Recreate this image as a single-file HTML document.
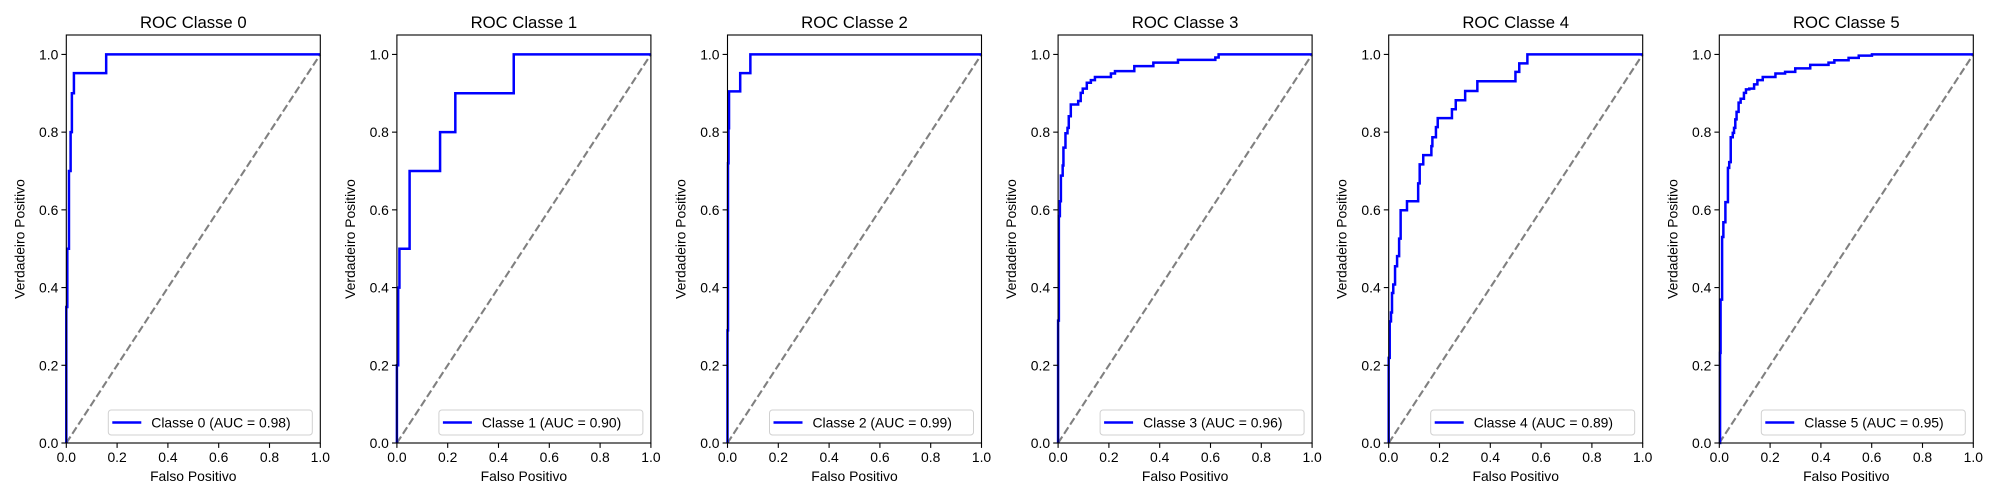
<!DOCTYPE html>
<html><head><meta charset="utf-8">
<style>
html,body{margin:0;padding:0;background:#fff;}
svg{display:block;font-family:"Liberation Sans","DejaVu Sans",sans-serif;}
</style></head>
<body>
<svg id="chart" width="2000" height="500" viewBox="0 0 2000 500" xmlns="http://www.w3.org/2000/svg"></svg>
<script>
const classNames = ["Classe 0","Classe 1","Classe 2","Classe 3","Classe 4","Classe 5"];
const aucValues = ["0.98","0.90","0.99","0.96","0.89","0.95"];
const tickLabels = ["0.0","0.2","0.4","0.6","0.8","1.0"];
const tickValues = [0,0.2,0.4,0.6,0.8,1.0];
const fpr0 = [0,0.004,0.0105,0.017,0.022,0.03,0.157];
const tpr0 = [0.35,0.5,0.7,0.8,0.9,0.952,1.0];
const fpr1 = [0,0.005,0.01,0.05,0.17,0.23,0.46];
const tpr1 = [0.2,0.4,0.5,0.7,0.8,0.9,1.0];
const fpr2 = [0,0.002,0.004,0.006,0.05,0.09];
const tpr2 = [0.29,0.72,0.81,0.905,0.952,1.0];
const fpr3 = [0,0.003,0.007,0.011,0.018,0.021,0.029,0.037,0.042,0.05,0.079,0.089,0.097,0.113,0.129,0.145,0.208,0.224,0.3,0.375,0.472,0.619,0.632];
const tpr3 = [0.315,0.584,0.622,0.688,0.714,0.76,0.797,0.811,0.841,0.871,0.88,0.901,0.912,0.927,0.934,0.942,0.951,0.957,0.97,0.979,0.986,0.992,1.0];
const fpr4 = [0,0.004,0.009,0.013,0.018,0.025,0.033,0.041,0.047,0.072,0.116,0.122,0.136,0.168,0.172,0.186,0.193,0.249,0.264,0.301,0.349,0.499,0.514,0.546];
const tpr4 = [0.219,0.313,0.336,0.386,0.408,0.455,0.481,0.526,0.599,0.622,0.668,0.717,0.741,0.764,0.787,0.813,0.836,0.859,0.882,0.906,0.931,0.955,0.977,1.0];
const fpr5 = [0.003,0.005,0.011,0.016,0.024,0.034,0.039,0.045,0.053,0.058,0.063,0.068,0.076,0.084,0.097,0.105,0.118,0.137,0.15,0.171,0.221,0.259,0.299,0.358,0.43,0.453,0.509,0.549,0.601];
const tpr5 = [0.232,0.369,0.53,0.568,0.62,0.708,0.723,0.787,0.798,0.811,0.833,0.852,0.876,0.886,0.901,0.91,0.912,0.923,0.934,0.942,0.951,0.955,0.964,0.973,0.979,0.985,0.991,0.997,1.0];
const allFpr = [fpr0,fpr1,fpr2,fpr3,fpr4,fpr5];
const allTpr = [tpr0,tpr1,tpr2,tpr3,tpr4,tpr5];

const NS = "http://www.w3.org/2000/svg";
const svg = document.getElementById("chart");
function mk(tag, attrs, parent){
  const e = document.createElementNS(NS, tag);
  for (const k in attrs) e.setAttribute(k, attrs[k]);
  (parent||svg).appendChild(e);
  return e;
}
const W = 254, TOP = 35, BOT = 443, YMAX = 1.05;
for (let p = 0; p < 6; p++) {
  const L = 66.3 + p * 330.6;
  const sx = v => L + v * W;
  const sy = v => BOT - v / YMAX * (BOT - TOP);
  const g = mk("g", {});
  
  
  const diag = mk("line", {x1:sx(0), y1:sy(0), x2:sx(1), y2:sy(1), stroke:"#808080", "stroke-width":2.1, "stroke-dasharray":"7.7 3.3"}, g);
  
  
  const fx = allFpr[p], ty = allTpr[p];
  let d = "M" + sx(0) + "," + sy(0);
  let prev = 0;
  for (let i = 0; i < fx.length; i++) {
    d += " L" + sx(fx[i]) + "," + sy(prev) + " L" + sx(fx[i]) + "," + sy(ty[i]);
    prev = ty[i];
  }
  d += " L" + sx(1) + "," + sy(prev);
  const curve = mk("path", {d:d, fill:"none", stroke:"#0000ff", "stroke-width":2.5, "stroke-linejoin":"miter"}, g);
  
  
  const frame = mk("rect", {x:L, y:TOP, width:W, height:BOT-TOP, fill:"none", stroke:"#000", "stroke-width":1.1}, g);
  
  
  for (let t = 0; t < tickValues.length; t++) {
    const xv = sx(tickValues[t]);
    mk("line", {x1:xv, y1:BOT, x2:xv, y2:BOT+4.9, stroke:"#000", "stroke-width":1.1}, g);
    const xt = mk("text", {x:xv, y:BOT+19, "font-size":13.9, "text-anchor":"middle", fill:"#000"}, g);
    xt.textContent = tickLabels[t];
    
    
    const yv = sy(tickValues[t]);
    mk("line", {x1:L-4.9, y1:yv, x2:L, y2:yv, stroke:"#000", "stroke-width":1.1}, g);
    const yt = mk("text", {x:L-8, y:yv+5, "font-size":13.9, "text-anchor":"end", fill:"#000"}, g);
    yt.textContent = tickLabels[t];
    
    
  }
  const title = mk("text", {x:L+W/2, y:28, "font-size":16.7, "text-anchor":"middle", fill:"#000"}, g);
  title.textContent = "ROC " + classNames[p];
  
  
  const xl = mk("text", {x:L+W/2, y:481, "font-size":13.9, "text-anchor":"middle", fill:"#000"}, g);
  xl.textContent = "Falso Positivo";
  
  
  const ylx = L - 42, yly = (TOP+BOT)/2;
  const yl = mk("text", {x:ylx, y:yly, "font-size":13.9, "text-anchor":"middle", fill:"#000", transform:"rotate(-90 "+ylx+" "+yly+")"}, g);
  yl.textContent = "Verdadeiro Positivo";
  
  
  const lg = mk("g", {}, g);
  
  
  const lw = 204, lh = 25;
  const lx = L + W - 8 - lw, ly = BOT - 8 - lh;
  mk("rect", {x:lx, y:ly, width:lw, height:lh, rx:3, fill:"#fff", "fill-opacity":0.8, stroke:"#d0d0d0", "stroke-width":1}, lg);
  const ll = mk("line", {x1:lx+4, y1:ly+lh/2, x2:lx+33, y2:ly+lh/2, stroke:"#0000ff", "stroke-width":2.5}, lg);
  
  
  const lt = mk("text", {x:lx+43, y:ly+lh/2+5, "font-size":13.9, fill:"#000"}, lg);
  lt.textContent = classNames[p] + " (AUC = " + aucValues[p] + ")";
  
  
}
</script>
</body></html>
